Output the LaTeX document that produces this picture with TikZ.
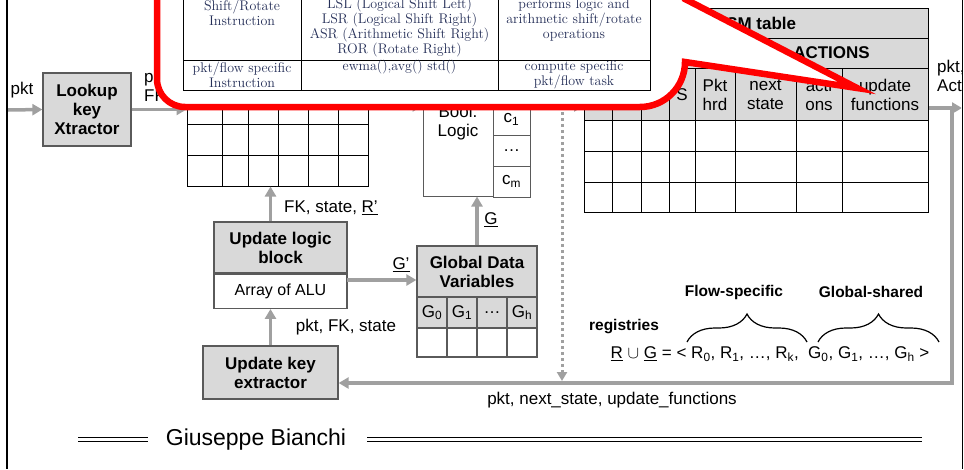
\documentclass[tikz,border=0pt]{standalone}
\usepackage{fontspec}
\setsansfont{Liberation Sans}
\usetikzlibrary{arrows.meta,positioning,decorations.pathreplacing}

\definecolor{flowgrey}{HTML}{A0A0A0}
\definecolor{fillgrey}{HTML}{D9D9D9}
\definecolor{edgegrey}{HTML}{5A5A5A}
\definecolor{bubblered}{HTML}{FF0000}
\definecolor{tabink}{HTML}{252F58}

\tikzset{
  flow/.style={draw=flowgrey, line width=3.5pt, -{Triangle[length=10pt,width=11pt]}},
  dotflow/.style={draw=flowgrey, line width=3pt, dash pattern=on 3pt off 3pt, -{Triangle[length=9pt,width=10pt]}},
  blockbox/.style={draw=edgegrey, line width=1.3pt, fill=fillgrey, font=\bfseries, align=center, inner sep=0pt},
  plainbox/.style={draw=edgegrey, line width=1.3pt, fill=white, align=center, inner sep=0pt},
  cellbox/.style={draw=black, line width=1pt, inner sep=0pt, align=center},
  tabline/.style={line width=1pt},
  brace/.style={decorate, decoration={brace, amplitude=28pt}, line width=1.2pt},
  rule/.style={double, double distance=3pt, line width=1pt},
  serif/.style={font=\rmfamily\fontsize{14}{15}\selectfont, text=tabink, align=center},
  smallbold/.style={font=\bfseries\fontsize{15.5}{18}\selectfont},
}

\begin{document}
\sffamily\fontsize{17}{19}\selectfont
\begin{tikzpicture}[x=1pt, y=-1pt]
\useasboundingbox (0,0) rectangle (964,469);
\begin{scope}
\clip (0,0) rectangle (961,469);

% lookup stage
\coordinate (pktin) at (8,110);
\node[blockbox, minimum width=88, minimum height=73] (lkx) at (87,109.5) {Lookup\\key\\Xtractor};
\node (pktlbl) at (22,90) {pkt};
\draw[flow] (pktin) -- (lkx.west);

% flow table
\node[cellbox, minimum width=181, minimum height=92] (flowtab) at (277.5,140) {};
\foreach \x in {222,248,278,308,338}
  \draw[tabline] (\x,94) -- (\x,186);
\foreach \y in {124,155}
  \draw[tabline] (187,\y) -- (368,\y);
\draw[flow] (lkx.east) -- (lkx.east -| flowtab.west);
\node[anchor=west, align=left, inner sep=0pt] (pktfk) at (144,86) {pkt,\\FK};

% condition logic
\node[cellbox, draw=edgegrey, minimum width=70, minimum height=114] (boolbox) at (458,139) {};
\node[align=center] (boollbl) at (458,123) {Bool.\\Logic};
\node[cellbox, draw=edgegrey, minimum width=37, minimum height=31] (c1) at (511.5,119.5) {c\textsubscript{1}};
\node[cellbox, draw=edgegrey, minimum width=37, minimum height=31] (cdots) at (511.5,150.5) {\dots};
\node[cellbox, draw=edgegrey, minimum width=37, minimum height=31] (cm) at (511.5,181.5) {c\textsubscript{m}};
\coordinate (toBool) at (368,106);
\draw[flow] (toBool) -- (toBool -| boolbox.west);

% FSM table
\fill[fillgrey] (584,8) rectangle (928,120);
\node[cellbox, minimum width=344, minimum height=204, anchor=north west] (fsm) at (584,8) {};
\foreach \y in {38,68,120,151,182}
  \draw[tabline] (584,\y) -- (928,\y);
\draw[tabline] (735,38) -- (735,68);
\foreach \x in {612,641,669,695,735,796,842}
  \draw[tabline] (\x,68) -- (\x,212);
\node[font=\bfseries] (fsmtitle) at (756,23) {FSM table};
\node[font=\bfseries] (fsmact) at (831.5,53) {ACTIONS};
\node (hdS) at (682,95) {S};
\node[align=center] (hdPkt) at (715,95) {Pkt\\hrd};
\node[align=center] (hdNext) at (765.5,95) {next\\state};
\node[align=center] (hdAct) at (819,95) {acti\\ons};
\node[align=center] (hdUpd) at (885,95) {update\\functions};
\coordinate (toFsm) at (530,106);
\draw[flow] (toFsm) -- (toFsm -| fsm.west);

% output and feedback
\coordinate (outR) at (962,108);
\coordinate (fbtop) at (952,108);
\coordinate (fbend) at (952,383);
\draw[flow] (fsm.east |- outR) -- (outR);
\node[anchor=west, align=left, inner sep=0pt] (pktact) at (937,76) {pkt,\\Actions};

% update path
\node[blockbox, minimum width=133, minimum height=51] (ulbtop) at (280.5,247.5) {Update logic\\block};
\node[plainbox, minimum width=133, minimum height=34, below=0pt of ulbtop, font=\fontsize{16}{18}\selectfont] (ulbbot) {Array of ALU};
\node[blockbox, minimum width=135, minimum height=53] (ukx) at (270.5,372.5) {Update key\\extractor};
\draw[flow] (fbtop) -- (fbend) -- (fbend -| ukx.east);
\node (fblbl) at (612,400) {pkt, next\_state, update\_functions};
\draw[flow] (ukx.north) -- (ukx.north |- ulbbot.south);
\node (ukxlbl) at (346,327) {pkt, FK, state};
\draw[flow] (ukx.north |- ulbtop.north) -- (ukx.north |- flowtab.south);
\node (ulblbl) at (331,208) {FK, state, \underline{R’}};

% global data
\node[blockbox, minimum width=120, minimum height=51] (gdv) at (477,271.5) {Global Data\\Variables};
\foreach \lbl [count=\k from 0] in {G\textsubscript{0},G\textsubscript{1},\dots,G\textsubscript{h}} {
  \node[blockbox, font=\mdseries, minimum width=30, minimum height=31] (gv\k) at (432+30*\k,312.5) {\lbl};
  \node[plainbox, minimum width=30, minimum height=29] (gw\k) at (432+30*\k,342.5) {};
}
\coordinate (gpr) at (347,280);
\draw[flow] (gpr) -- (gpr -| gdv.west);
\node (gprlbl) at (401,265) {\underline{G’}};
\draw[flow] (gdv.north) -- (gdv.north |- boolbox.south);
\node (glbl) at (491,220) {\underline{G}};

% registries
\node[smallbold] (regs) at (624,327) {registries};
\node (regset) at (770,354) {\underline{R} $\cup$ \underline{G} = < R\textsubscript{0}, R\textsubscript{1}, \dots, R\textsubscript{k},\ \ G\textsubscript{0}, G\textsubscript{1}, \dots, G\textsubscript{h} >};
\coordinate (fsL) at (687,342);
\coordinate (fsR) at (807,342);
\coordinate (gsL) at (818,342);
\coordinate (gsR) at (939,342);
\draw[brace] (fsL) -- (fsR);
\draw[brace] (gsL) -- (gsR);
\node[smallbold] (flowlbl) at (734,292) {Flow-specific};
\node[smallbold] (globlbl) at (871,292) {Global-shared};

% dotted hand-off
\coordinate (dottop) at (562,100);
\draw[dotflow] (dottop) -- ([yshift=2pt]dottop |- fbend);

% footer
\node[font=\fontsize{23}{26}\selectfont] (author) at (256,440) {Giuseppe Bianchi};
\draw[rule] (78,439) -- (148,439);
\draw[rule] (367,439) -- (922,439);

% callout
\path[fill=white, draw=bubblered, line width=6.5pt] (685,-30) -- (685,-1) -- (857,88) -- (685,62)
  [rounded corners=45pt] -- (685,107) [rounded corners=28pt] -- (157,107) [sharp corners] -- (157,-30);
\draw[line width=0.8pt] (183,-10) -- (183,90) -- (650,90) -- (650,-10);
\draw[line width=0.8pt] (183,60) -- (650,60);
\draw[line width=0.8pt] (301,-10) -- (301,90);
\draw[line width=0.8pt] (498,-10) -- (498,90);
\node[serif] (shiftA) at (242,12.5) {Shift/Rotate\\Instruction};
\node[serif] (shiftB) at (399.5,27.5) {LSL (Logical Shift Left)\\LSR (Logical Shift Right)\\ASR (Arithmetic Shift Right)\\ROR (Rotate Right)};
\node[serif] (shiftC) at (574,20) {performs logic and\\arithmetic shift/rotate\\operations};
\node[serif] (specA) at (242,74.5) {pkt/flow specific\\Instruction};
\node[serif] (specB) at (399.5,67) {ewma(),avg() std()};
\node[serif] (specC) at (574,74.5) {compute specific\\pkt/flow task};
\end{scope}

% page borders
\draw[line width=2.5pt] (7,0) -- (7,469);
\draw[line width=1pt] (962,0) -- (962,469);
\end{tikzpicture}
\end{document}
